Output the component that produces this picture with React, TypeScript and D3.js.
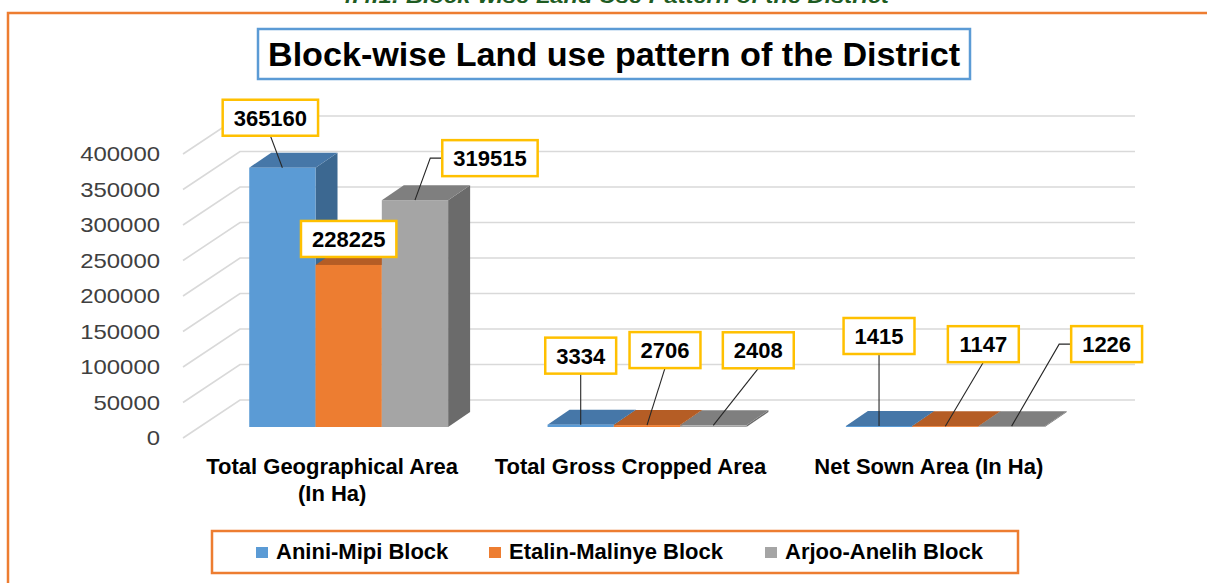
import React from 'react';
import * as d3 from 'd3';

// ==================== DATA ====================
const categories = ['Total Geographical Area (In Ha)', 'Total Gross Cropped Area', 'Net Sown Area (In Ha)'];
const categoryLines = [['Total Geographical Area', '(In Ha)'], ['Total Gross Cropped Area'], ['Net Sown Area (In Ha)']];
const seriesNames = ['Anini-Mipi Block', 'Etalin-Malinye Block', 'Arjoo-Anelih Block'];
const aniniMipi = [365160, 3334, 1415];
const etalinMalinye = [228225, 2706, 1147];
const arjooAnelih = [319515, 2408, 1226];
const yTicks = [0, 50000, 100000, 150000, 200000, 250000, 300000, 350000, 400000];

const seriesValues = [aniniMipi, etalinMalinye, arjooAnelih];

// ==================== LOOK ====================
const FONT = "'Liberation Sans', Arial, Helvetica, sans-serif";
const FACES = [
    { front: '#5B9BD5', top: '#4677A8', side: '#3C6891' },
    { front: '#ED7D31', top: '#B55D25', side: '#B85B1E' },
    { front: '#A5A5A5', top: '#7F7F7F', side: '#6B6B6B' },
];

// back wall of the 3D plot
const WALL_LEFT = 240;
const WALL_RIGHT = 1135;
const FLOOR_DX = -57; // back -> front edge of the floor
const FLOOR_DY = 38;
const BAR_FRONT = { dx: -40.5, dy: 27 };
const BAR_DEPTH = { dx: 22, dy: -15 };

// where Excel put the (hand-moved) data labels, relative to bar front-top centre
const labelOffsets = [
    [[-12, -50], [0, -26], [75, -42]],
    [[0, -69], [18, -75], [45, -75]],
    [[0, -90], [38, -82], [95, -82]],
];

const App = () => {
    const width = 1207;
    const height = 583;

    const y = d3.scaleLinear().domain([0, 400000]).range([400, 116]);
    const xCat = d3.scaleBand().domain(categories).range([WALL_LEFT, WALL_RIGHT]).padding(0);
    const xSer = d3.scaleBand().domain(seriesNames).range([0, xCat.bandwidth()]).paddingInner(0).paddingOuter(0.75);
    const w = xSer.bandwidth();

    const bars = [];
    categories.forEach((c, ci) => {
        seriesNames.forEach((s, si) => {
            const v = seriesValues[si][ci];
            const x0 = (xCat(c) || 0) + (xSer(s) || 0) + BAR_FRONT.dx;
            const yt = y(v) + BAR_FRONT.dy;
            const yb = y(0) + BAR_FRONT.dy;
            bars.push({ ci, si, v, x0, yt, yb });
        });
    });

    const { dx, dy } = BAR_DEPTH;

    return (
        <>
            <style>{'body{margin:0;background:#fff}'}</style>
            <svg width={width} height={height} style={{ display: 'block' }} fontFamily={FONT}>
                <rect width={width} height={height} fill="#fff" />

                {/* caption cut off at the top of the page */}
                <text x={339} y={3} fontSize={20} fontWeight="bold" fontStyle="italic" fill="#1E5B22"
                    textLength={550} lengthAdjust="spacingAndGlyphs">
                    4.4.1: Block-wise Land Use Pattern of the District
                </text>

                {/* outer frame */}
                <path d={`M8,${height + 2} L8,13 L${width + 2},13`} fill="none" stroke="#ED7D31" strokeWidth={2.5} />

                {/* gridlines: side wall diagonals + back wall */}
                {yTicks.map(t => (
                    <path key={'g' + t}
                        d={`M${WALL_LEFT + FLOOR_DX},${y(t) + FLOOR_DY} L${WALL_LEFT},${y(t)} L${WALL_RIGHT},${y(t)}`}
                        fill="none" stroke="#D9D9D9" strokeWidth={1.6} />
                ))}

                {/* y labels */}
                {yTicks.map(t => (
                    <text key={'y' + t} x={160} y={y(t) + FLOOR_DY} dy="0.35em" textAnchor="end"
                        fontSize={21} fill="#404040"
                        textLength={String(t).length * 13.3} lengthAdjust="spacingAndGlyphs">
                        {t}
                    </text>
                ))}

                {/* 3D bars */}
                {bars.map(b => {
                    const f = FACES[b.si];
                    const top = `M${b.x0},${b.yt} L${b.x0 + dx},${b.yt + dy} L${b.x0 + w + dx},${b.yt + dy} L${b.x0 + w},${b.yt} Z`;
                    const side = `M${b.x0 + w},${b.yt} L${b.x0 + w + dx},${b.yt + dy} L${b.x0 + w + dx},${b.yb + dy} L${b.x0 + w},${b.yb} Z`;
                    return (
                        <g key={`b${b.ci}-${b.si}`}>
                            <path d={side} fill={f.side} />
                            <path d={top} fill={f.top} />
                            <rect x={b.x0} y={b.yt} width={w} height={Math.max(0.5, b.yb - b.yt)} fill={f.front} />
                        </g>
                    );
                })}

                {/* data labels with leader lines */}
                {bars.map(b => {
                    const ax = b.x0 + w / 2;
                    const ay = b.yt;
                    const [ox, oy] = labelOffsets[b.ci][b.si];
                    const txt = String(b.v);
                    const bw = txt.length * 12.23 + 22;
                    const bh = 36;
                    const cx = ax + ox;
                    const cy = ay + oy;
                    const left = cx - bw / 2;
                    const bottom = cy + bh / 2;
                    let leader = null;
                    if (Math.hypot(ox, oy + bh / 2) > 15 && bottom < ay - 10) {
                        if (ax < left - 20) {
                            leader = `M${left},${cy} L${left - 12},${cy} L${ax},${ay}`;
                        } else {
                            leader = `M${cx},${bottom} L${ax},${ay}`;
                        }
                    }
                    return (
                        <g key={`l${b.ci}-${b.si}`}>
                            {leader && <path d={leader} fill="none" stroke="#262626" strokeWidth={1.1} />}
                            <rect x={left} y={cy - bh / 2} width={bw} height={bh} fill="#fff" stroke="#FFC000" strokeWidth={2.5} />
                            <text x={cx} y={cy + 8} textAnchor="middle" fontSize={22} fontWeight="bold" fill="#000">{txt}</text>
                        </g>
                    );
                })}

                {/* category labels along the front edge of the floor */}
                {categories.map((c, ci) => (
                    <text key={'c' + ci} x={(xCat(c) || 0) + xCat.bandwidth() / 2 + FLOOR_DX}
                        textAnchor="middle" fontSize={22} fontWeight="bold" fill="#000">
                        {categoryLines[ci].map((line, li) => (
                            <tspan key={li} x={(xCat(c) || 0) + xCat.bandwidth() / 2 + FLOOR_DX} y={474 + li * 27}>{line}</tspan>
                        ))}
                    </text>
                ))}

                {/* title */}
                <rect x={258} y={29} width={712} height={50} fill="#fff" stroke="#5B9BD5" strokeWidth={2.5} />
                <text x={614} y={66} textAnchor="middle" fontSize={33} fontWeight="bold" fill="#000"
                    textLength={692} lengthAdjust="spacingAndGlyphs">
                    Block-wise Land use pattern of the District
                </text>

                {/* legend */}
                <rect x={212} y={531} width={806} height={42} fill="#fff" stroke="#ED7D31" strokeWidth={2.5} />
                {(() => {
                    let x = 256;
                    return seriesNames.map((s, si) => {
                        const tw = [172, 215, 198][si];
                        const g = (
                            <g key={'lg' + si}>
                                <rect x={x} y={547} width={12} height={11} fill={FACES[si].front} />
                                <text x={x + 20} y={559} fontSize={22} fontWeight="bold" fill="#000">{s}</text>
                            </g>
                        );
                        x += 20 + tw + 41;
                        return g;
                    });
                })()}
            </svg>
        </>
    );
};

export default App;
